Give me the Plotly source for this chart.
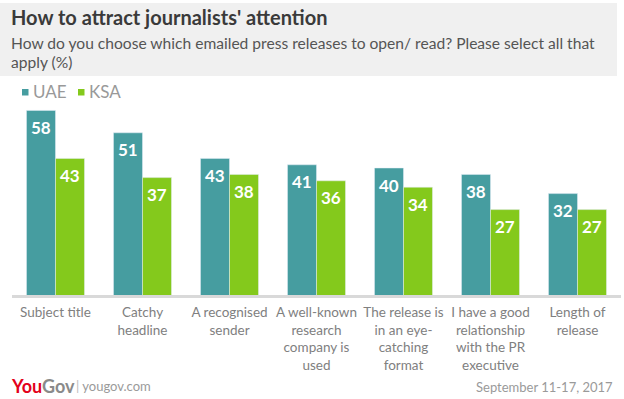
import plotly.graph_objects as go

categories = ["Subject title", "Catchy<br>headline", "A recognised<br>sender",
              "A well-known<br>research<br>company is<br>used",
              "The release is<br>in an eye-<br>catching<br>format",
              "I have a good<br>relationship<br>with the PR<br>executive",
              "Length of<br>release"]
uae = [58, 51, 43, 41, 40, 38, 32]
ksa = [43, 37, 38, 36, 34, 27, 27]
series_names = ["UAE", "KSA"]

W, H = 624, 399
L, R, T, B = 12, 3, 104, 103
PW = W - L - R
PH = H - T - B

def px(x):
    return (x - L) / PW

def py(y):
    return (H - B - y) / PH

FONT = "Lato"
TEAL = "#469da0"
GREEN = "#84c91c"
colors = [TEAL, GREEN]
BARGAP = 0.333

fig = go.Figure()
for name, vals, col in zip(series_names, [uae, ksa], colors):
    fig.add_bar(name=name, x=categories, y=vals, marker_color=col, showlegend=False,
                hoverinfo="skip")

# value labels inside top of bars
cat_px = PW / len(categories)
half = cat_px * (1 - BARGAP) / 4
annotations = []
for i, vals in enumerate([uae, ksa]):
    for c, v in zip(categories, vals):
        annotations.append(dict(x=c, y=v, xref="x", yref="y", text="<b>%d</b>" % v,
                                showarrow=False, xanchor="center", yanchor="middle",
                                xshift=(-half if i == 0 else half), yshift=-17,
                                font=dict(size=17, color="white", family=FONT)))

shapes = [
    dict(type="rect", xref="paper", yref="paper", x0=px(0), x1=px(617),
         y0=py(76), y1=py(3), fillcolor="#f0f0f0", line_width=0, layer="below"),
    dict(type="line", xref="paper", yref="paper", x0=0, x1=1, y0=py(296.5), y1=py(296.5),
         line=dict(color="#d9d9d9", width=3)),
    dict(type="rect", xref="paper", yref="paper", x0=px(22), x1=px(28.5),
         y0=py(95.5), y1=py(89), fillcolor=TEAL, line_width=0),
    dict(type="rect", xref="paper", yref="paper", x0=px(78), x1=px(84.5),
         y0=py(95.5), y1=py(89), fillcolor=GREEN, line_width=0),
]

annotations += [
    dict(text="<b>How to attract journalists' attention</b>", x=px(9), y=py(17),
         xref="paper", yref="paper", xanchor="left", yanchor="middle", showarrow=False,
         font=dict(size=20, color="#3a3a3a", family=FONT)),
    dict(text="How do you choose which emailed press releases to open/ read? Please select all that",
         x=px(9), y=py(43), xref="paper", yref="paper", xanchor="left", yanchor="middle",
         showarrow=False, font=dict(size=15.6, color="#555555", family=FONT)),
    dict(text="apply (%)", x=px(9), y=py(62), xref="paper", yref="paper", xanchor="left",
         yanchor="middle", showarrow=False, font=dict(size=15.6, color="#555555", family=FONT)),
    dict(text=series_names[0], x=px(31), y=py(91), xref="paper", yref="paper",
         xanchor="left", yanchor="middle", showarrow=False,
         font=dict(size=17, color="#999999", family=FONT)),
    dict(text=series_names[1], x=px(87), y=py(91), xref="paper", yref="paper",
         xanchor="left", yanchor="middle", showarrow=False,
         font=dict(size=17, color="#999999", family=FONT)),
    dict(text="<b><span style='color:#e3001b'>You</span><span style='color:#8a8a8a'>Gov</span></b>",
         x=px(9), y=py(386), xref="paper", yref="paper", xanchor="left", yanchor="middle",
         showarrow=False, font=dict(size=18, family=FONT)),
    dict(text="<span style='color:#bbbbbb'>|</span> yougov.com", x=px(74), y=py(386),
         xref="paper", yref="paper", xanchor="left", yanchor="middle", showarrow=False,
         font=dict(size=13, color="#9a9a9a", family=FONT)),
    dict(text="September 11-17, 2017", x=px(615), y=py(387), xref="paper", yref="paper",
         xanchor="right", yanchor="middle", showarrow=False,
         font=dict(size=13, color="#9a9a9a", family=FONT)),
]

fig.update_layout(
    width=W, height=H, margin=dict(l=L, r=R, t=T, b=B, autoexpand=False),
    paper_bgcolor="white", plot_bgcolor="white",
    barmode="group", bargap=BARGAP, bargroupgap=0,
    showlegend=False, hovermode=False,
    xaxis=dict(showgrid=False, showline=False, zeroline=False,
               ticks="outside", ticklen=4, tickcolor="rgba(0,0,0,0)",
               automargin=False,
               tickfont=dict(size=13.5, color="#808080", family=FONT), fixedrange=True),
    yaxis=dict(range=[0, 60], visible=False, showgrid=False, zeroline=False,
               automargin=False, fixedrange=True),
    shapes=shapes, annotations=annotations,
)

fig.write_html("out.html", config={"displayModeBar": False, "staticPlot": True},
               post_script="document.body.style.margin='0';document.body.style.overflow='hidden';")
